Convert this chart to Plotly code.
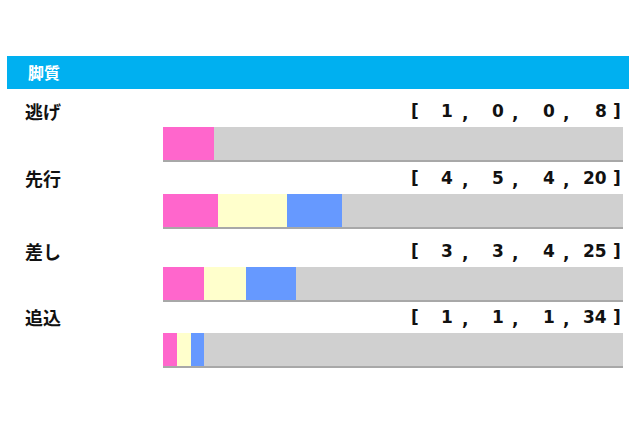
import plotly.graph_objects as go

# ---- data ----
styles = ["逃げ", "先行", "差し", "追込"]
first = [1, 4, 3, 1]
second = [0, 5, 3, 1]
third = [0, 4, 4, 1]
other = [8, 20, 25, 34]
title = "脚質"

# ---- layout constants (pixels) ----
W, H = 640, 426
BAR_X0, BAR_X1 = 163, 623
ROW_Y = [143.5, 210.5, 283.5, 349.5]
BAR_H = 33
TEXT_DY = -33

colors = ["#FF66CC", "#FFFFCC", "#6699FF", "#D0D0D0"]
series = [first, second, third, other]

totals = [sum(v) for v in zip(*series)]
# percentage shares, rounded to whole percent; last (grey) takes the remainder
shares = []
for s in series[:-1]:
    shares.append([round(100 * v / t) for v, t in zip(s, totals)])
shares.append([100 - sum(col) for col in zip(*shares)])

fig = go.Figure()

# shadow (bottom / right darker edge)
shadow_px = 2
fig.add_trace(go.Bar(
    orientation="h", y=[y + shadow_px for y in ROW_Y],
    x=[100 + 100 * shadow_px / (BAR_X1 - BAR_X0)] * len(styles), base=[0] * len(styles),
    width=BAR_H, marker=dict(color="#A8A8A8", line=dict(width=0)),
    hoverinfo="skip", showlegend=False))

cum = [0] * len(styles)
for vals, col in zip(shares, colors):
    fig.add_trace(go.Bar(
        orientation="h", y=ROW_Y, x=vals, base=list(cum), width=BAR_H,
        marker=dict(color=col, line=dict(width=0)),
        hoverinfo="skip", showlegend=False))
    cum = [c + f for c, f in zip(cum, vals)]

ann = []
jp_font = "Noto Sans CJK JP"
num_font = dict(family="DejaVu Sans", size=17, color="#111111")
ann.append(dict(x=26 / W, y=72, xref="paper", yref="y", text="<b>" + title + "</b>",
                showarrow=False, xanchor="left", yanchor="middle",
                font=dict(family=jp_font, size=16, color="white")))
for i, name in enumerate(styles):
    ty = ROW_Y[i] + TEXT_DY
    ann.append(dict(x=23 / W, y=ty, xref="paper", yref="y", text="<b>" + name + "</b>",
                    showarrow=False, xanchor="left", yanchor="middle",
                    font=dict(family=jp_font, size=18, color="#111111")))
    vals = [s[i] for s in series]
    ann.append(dict(x=415 / W, y=ty, xref="paper", yref="y", text="<b>[</b>",
                    showarrow=False, xanchor="center", yanchor="middle", font=num_font))
    ann.append(dict(x=617 / W, y=ty, xref="paper", yref="y", text="<b>]</b>",
                    showarrow=False, xanchor="center", yanchor="middle", font=num_font))
    for k, v in enumerate(vals):
        ann.append(dict(x=(455 + 51.2 * k) / W, y=ty, xref="paper", yref="y",
                        text="<b>%d</b>" % v, showarrow=False, xanchor="right",
                        yanchor="middle", font=num_font))
        if k < 3:
            ann.append(dict(x=(464.5 + 50.7 * k) / W, y=ty + 2, xref="paper", yref="y",
                            text="<b>,</b>", showarrow=False, xanchor="center",
                            yanchor="middle", font=num_font))

fig.update_layout(
    width=W, height=H, margin=dict(l=0, r=0, t=0, b=0),
    paper_bgcolor="white", plot_bgcolor="white",
    barmode="overlay", bargap=0,
    xaxis=dict(domain=[BAR_X0 / W, BAR_X1 / W], range=[0, 100], visible=False, fixedrange=True),
    yaxis=dict(range=[H, 0], visible=False, fixedrange=True),
    shapes=[dict(type="rect", xref="paper", yref="y", x0=7 / W, x1=629 / W, y0=56, y1=89,
                 fillcolor="#00B0F0", line=dict(width=0), layer="below")],
    annotations=ann,
)

fig.write_html("out.html", config={"displayModeBar": False, "staticPlot": True},
               post_script="document.body.style.margin='0';document.body.style.overflow='hidden';")
